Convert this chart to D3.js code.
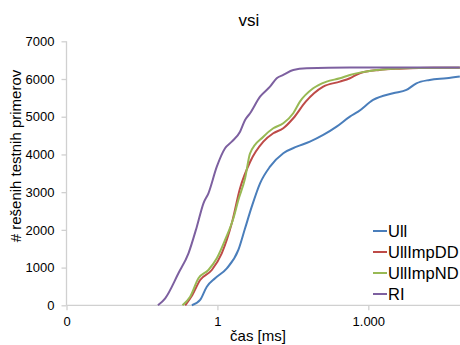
<!DOCTYPE html>
<html>
<head>
<meta charset="utf-8">
<script src="https://cdn.jsdelivr.net/npm/d3@7"></script>
<style>
  body { margin: 0; background: #fff; }
  text { font-family: "Liberation Sans", Arial, sans-serif; fill: #000; }
</style>
</head>
<body>
<div id="chart"></div>
<script>
// series: [time in ms, solved count]
var ull = [[0.31, 0], [0.454, 141], [0.616, 493], [0.9, 716], [1.54, 981], [2.61, 1467], [3.55, 2042],
  [4.82, 2615], [7.04, 3235], [11.1, 3676], [20.4, 4031], [37.6, 4206], [69, 4339], [127, 4516], [234, 4737],
  [430, 5002], [628, 5134], [1245, 5444], [3105, 5622], [5730, 5710], [9040, 5887], [16600, 5976], [35600, 6020], [66000, 6065]];
var ullImpDD = [[0.229, 0], [0.316, 270], [0.454, 671], [0.774, 936], [1.22, 1379], [1.93, 2175], [2.82, 3103],
  [4.46, 3800], [8.19, 4339], [12.9, 4561], [20.4, 4694], [32.2, 4959], [57, 5400], [127, 5797], [272, 5930],
  [430, 6020], [678, 6153], [1667, 6240], [4160, 6275], [10400, 6293], [66000, 6300]];
var ullImpND = [[0.202, 0], [0.287, 228], [0.42, 716], [0.663, 936], [0.973, 1246], [1.42, 1732], [2.08, 2307],
  [2.61, 2793], [3.55, 3368], [4.46, 4031], [8.19, 4471], [12.9, 4694], [20.4, 4827], [32.2, 5092], [43.7, 5400],
  [80.3, 5755], [148, 5930], [272, 6020], [430, 6108], [678, 6169], [1455, 6240], [3105, 6275], [7740, 6293], [66000, 6300]];
var ri = [[0.0657, 0], [0.0917, 186], [0.168, 849], [0.266, 1379], [0.39, 2084], [0.528, 2705], [0.663, 2970],
  [0.973, 3676], [1.42, 4164], [1.93, 4339], [2.82, 4604], [3.55, 4914], [4.46, 5092], [7.04, 5532], [11.1, 5797],
  [15.1, 6020], [20.4, 6108], [32.2, 6240], [59.4, 6285], [430, 6305], [66000, 6305]];

var seriesNames = ["Ull", "UllImpDD", "UllImpND", "RI"];
var seriesColors = ["#4a7ebb", "#be4b48", "#98b954", "#7d60a0"];
var seriesData = [ull, ullImpDD, ullImpND, ri];

var xTicks = [0.001, 1, 1000];
var xTickLabels = ["0", "1", "1.000"];
var yTicks = [0, 1000, 2000, 3000, 4000, 5000, 6000, 7000];

var width = 460, height = 345;
var plotLeft = 66.5, plotRight = 460, plotTop = 41.3, plotBottom = 305.3;

var svg = d3.select("#chart").append("svg").attr("width", width).attr("height", height);

var x = d3.scaleLog().domain([0.001, 66500]).range([plotLeft, plotRight]);
var y = d3.scaleLinear().domain([0, 7000]).range([plotBottom, plotTop]);

// axes
var yAxis = svg.append("g").attr("transform", "translate(" + plotLeft + ",0)")
  .call(d3.axisLeft(y).tickValues(yTicks).tickSize(5).tickPadding(7).tickFormat(d3.format("d")));
var xAxis = svg.append("g").attr("transform", "translate(0," + plotBottom + ")")
  .call(d3.axisBottom(x).tickValues(xTicks).tickSize(5).tickPadding(6)
    .tickFormat(function (d, i) { return xTickLabels[i]; }));
[xAxis, yAxis].forEach(function (a) {
  a.select(".domain").attr("stroke", "#d0d0d0").attr("stroke-width", 1.3);
  a.selectAll(".tick line").attr("stroke", "#d0d0d0").attr("stroke-width", 1.3);
  a.selectAll(".tick text").style("font-size", "13px").attr("fill", "#000");
});
xAxis.select(".domain").attr("d", "M" + plotLeft + ",0H" + plotRight);
yAxis.select(".domain").attr("d", "M0," + plotBottom + "V" + plotTop);

// lines
var line = d3.line()
  .x(function (d) { return x(d[0]); })
  .y(function (d) { return y(d[1]); })
  .curve(d3.curveMonotoneX);

svg.append("defs").append("clipPath").attr("id", "clip")
  .append("rect").attr("x", plotLeft).attr("y", 0).attr("width", plotRight - plotLeft).attr("height", plotBottom + 2);

svg.append("g").attr("clip-path", "url(#clip)")
  .selectAll("path").data(seriesData).enter().append("path")
  .attr("d", line)
  .attr("fill", "none")
  .attr("stroke", function (d, i) { return seriesColors[i]; })
  .attr("stroke-width", 2);

// title and axis labels
svg.append("text").attr("x", 249).attr("y", 26).attr("text-anchor", "middle")
  .style("font-size", "17px").text("vsi");
svg.append("text").attr("x", 258).attr("y", 341).attr("text-anchor", "middle")
  .style("font-size", "15px").text("čas [ms]");
svg.append("text").attr("transform", "translate(21,156) rotate(-90)").attr("text-anchor", "middle")
  .style("font-size", "15px").text("# rešenih testnih primerov");

// legend
var legend = svg.append("g").selectAll("g").data(seriesNames).enter().append("g")
  .attr("transform", function (d, i) { return "translate(373," + (231 + i * 21) + ")"; });
legend.append("line").attr("x1", 0).attr("x2", 14).attr("y1", 0).attr("y2", 0)
  .attr("stroke", function (d, i) { return seriesColors[i]; }).attr("stroke-width", 2);
legend.append("text").attr("x", 15).attr("y", 6).style("font-size", "16.5px").text(function (d) { return d; });
</script>
</body>
</html>
